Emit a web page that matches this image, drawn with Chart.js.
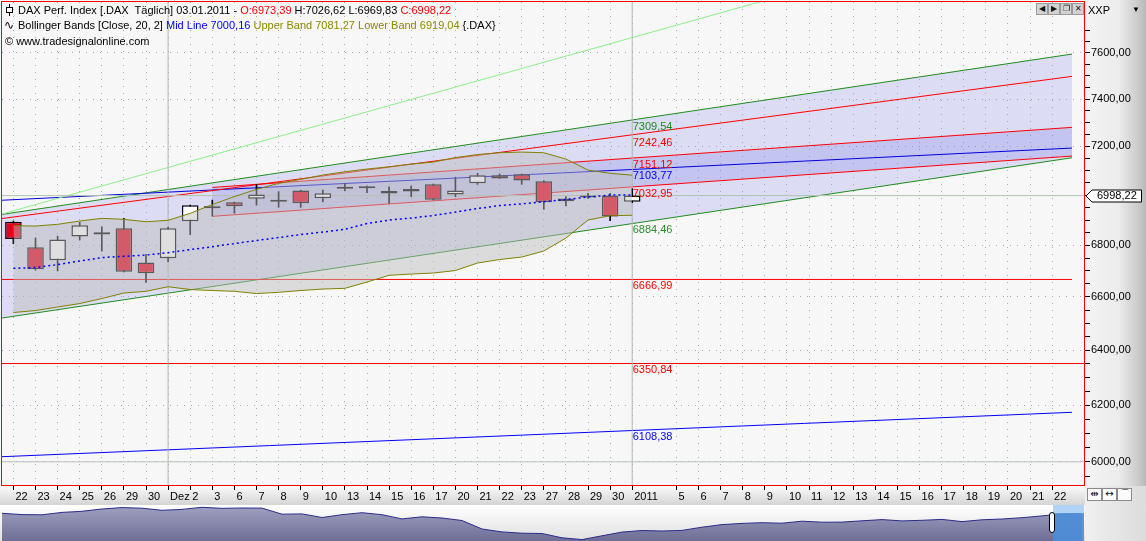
<!DOCTYPE html>
<html>
<head>
<meta charset="utf-8">
<script src="https://cdn.jsdelivr.net/npm/chart.js@4.4.1/dist/chart.umd.min.js"></script>
<style>
  html,body{margin:0;padding:0;}
  body{width:1146px;height:541px;overflow:hidden;position:relative;background:#fff;font-family:'Liberation Sans',Arial,sans-serif;font-size:11px;color:#000;}
  .a{position:absolute;}
  .t{white-space:pre;line-height:13px;font-size:11px;}
  #plotbg{left:0;top:0;width:1085px;height:486px;background:#f7f7f7;}
  #ybg{left:1085px;top:0;width:61px;height:486px;background:linear-gradient(to right,#f4f4f4 0%,#ececec 55%,#cdcdcd 85%,#b8b8b8 100%);}
  #xbg{left:0;top:486px;width:1085px;height:19px;background:linear-gradient(to bottom,#fbfbfb,#d4d4d4);}
  #cornerbg{left:1085px;top:486px;width:61px;height:55px;background:linear-gradient(to right,#f0f0f0,#dcdcdc);}
  #navbg{left:0;top:505px;width:1085px;height:36px;background:linear-gradient(to bottom,#ffffff,#e0e0e0);}
  #main{left:0;top:0;}
  #nav{left:2px;top:505px;}
  #frame{left:1px;top:1px;width:1082px;height:483px;border:1px solid #ff0000;pointer-events:none;}
  .btn{position:absolute;top:3px;width:10px;height:10px;background:#d2d2d2;border:1px solid #9a9a9a;font-size:8px;line-height:10px;text-align:center;color:#111;}
  .bbtn{position:absolute;top:488px;width:13px;height:11px;background:#fafafa;border:1px solid #8a8a8a;font-size:10px;line-height:10px;text-align:center;color:#111;font-family:'DejaVu Sans',sans-serif;}
</style>
</head>
<body>
<div class="a" id="plotbg"></div>
<div class="a" id="ybg"></div>
<div class="a" id="xbg"></div>
<div class="a" id="cornerbg"></div>
<div class="a" id="navbg"></div>
<canvas id="main" class="a" width="1146" height="505"></canvas>
<canvas id="nav" class="a" width="1082" height="36"></canvas>
<div class="a" id="frame"></div>

<!-- navigator selection -->
<div class="a" style="left:1053px;top:505px;width:31px;height:36px;background:linear-gradient(to bottom,#a8d0f4 0%,#a8d0f4 22%,#4a8ed8 24%,#4a8ed8 100%);opacity:0.9"></div>
<div class="a" style="left:1049px;top:512px;width:4px;height:19px;background:#fff;border:1px solid #000;border-radius:3px"></div>

<!-- header -->
<svg class="a" style="left:4px;top:4px" width="12" height="12"><line x1="5.5" y1="0" x2="5.5" y2="12" stroke="#000"/><rect x="2.5" y="3.5" width="6" height="5" fill="#fff" stroke="#000"/></svg>
<div class="a t" style="left:18px;top:4px">DAX Perf. Index [.DAX  Täglich] 03.01.2011 - <span style="color:#f00">O:6973,39</span> H:7026,62 L:6969,83 <span style="color:#f00">C:6998,22</span></div>
<div class="a t" style="left:4px;top:19px;font-family:'DejaVu Sans',sans-serif;font-size:12px">∿</div>
<div class="a t" style="left:18px;top:19px">Bollinger Bands [Close, 20, 2] <span style="color:#0000ff">Mid Line 7000,16</span><span style="color:#8a8a00"> Upper Band 7081,27 Lower Band 6919,04</span> {.DAX}</div>
<div class="a t" style="left:5px;top:35px">© www.tradesignalonline.com</div>

<!-- top right controls -->
<div class="btn" style="left:1036px">◀</div>
<div class="btn" style="left:1048px">▶</div>
<div class="btn" style="left:1060px">❐</div>
<div class="btn" style="left:1072px">✕</div>
<div class="a t" style="left:1088px;top:4px">XXP</div>
<div class="a t" style="left:1132px;top:3px;font-size:8px">▼</div>

<!-- bottom right controls -->
<div class="bbtn" style="left:1087px">⇹</div>
<div class="bbtn" style="left:1102px">↔</div>
<div class="bbtn" style="left:1117px">⌒</div>

<div id="labels"></div>

<script>
// ---------- DATA ----------
const xLabels = ['22','23','24','25','26','29','30','Dez','2','3','6','7','8','9','10','13','14','15','16','17','20','21','22','23','27','28','29','30','2011','','5','6','7','8','9','10','11','12','13','14','15','16','17','18','19','20','21','22'];
const xTickIdx = [0,1,2,3,4,5,6,7,8,9,10,11,12,13,14,15,16,17,18,19,20,21,22,23,24,25,26,27,28,30,31,32,33,34,35,36,37,38,39,40,41,42,43,44,45,46,47];
const yTickValues = [5950,6000,6050,6100,6150,6200,6250,6300,6350,6400,6450,6500,6550,6600,6650,6700,6750,6800,6850,6900,6950,7000,7050,7100,7150,7200,7250,7300,7350,7400,7450,7500,7550,7600,7650,7700];

const opens  = [6893,6792,6741,6835,6843,6867,6733,6749,6895,6950,6971,6985,6980,7019,6987,7033,7029,7007,7015,7044,7003,7048,7081,7085,7056,6986,6995,6999,6973.39];
const highs  = [6896,6829,6836,6891,6873,6907,6765,6872,6960,6980,6972,7044,7014,7020,7021,7048,7037,7034,7037,7045,7073,7089,7086,7086,7059,6994,7007,7007,7026.62];
const lows   = [6806,6703,6700,6821,6777,6696,6656,6736,6842,6916,6927,6960,6951,6951,6973,7018,7010,6967,6994,6980,6994,7044,7068,7044,6943,6957,6987,6897,6969.83];
const closes = [6825,6706,6823,6879,6851,6697,6691,6867,6959,6947,6955,7003,6973,6967,7008,7026,7028,7017,7025,6981,7019,7081,7068,7060,6971,6975,6990,6914,6998.22];

const bbUpper = [6877.3,6876.1,6882.9,6896.0,6906.8,6902.8,6893.2,6898.8,6926.8,6962.1,6994.3,7023.5,7047.9,7064.3,7081.8,7095.3,7106.4,7115.8,7126.9,7135.1,7153.8,7166.2,7173.7,7176.6,7173.7,7147.6,7102.3,7088.8,7081.27];
const bbLower = [6540.8,6548.3,6561.6,6574.9,6593.9,6615.0,6621.4,6639.1,6628.3,6624.5,6621.4,6613.0,6617.6,6624.5,6630.2,6632.9,6657.1,6682.9,6687.9,6691.8,6701.5,6730.6,6744.2,6754.0,6777.5,6828.6,6900.0,6917.2,6919.04];
const bbMid   = [6710.0,6713.1,6724.7,6738.4,6752.0,6756.7,6761.8,6770.8,6783.4,6794.4,6806.9,6818.7,6830.5,6842.4,6852.3,6863.0,6886.1,6900.0,6908.0,6918.0,6932.0,6946.0,6958.1,6965.0,6973.4,6982.3,6992.3,7000.4,7000.16];

// drawing-tool lines: [start index, end index] and [start value, end value]
const chanX  = [-0.516, 47.9];
const innerX = [9, 47.9];
const fullX  = [-0.516, 48.443];
const upperGreen  = [6922.4, 7594.8];
const lowerGreen  = [6520.0, 7153.0];
const steepGreen  = [6924.2, 8233.0];
const redUpper    = [6906.0, 7497.5];
const blueMid     = [6979.4, 7193.2];
const innerTop    = [7031.3, 7279.7];
const innerBottom = [6914.8, 7160.0];
const blueLower   = [6017.7, 6174.2];
const redLevel1   = 6666.99;
const redLevel2   = 6350.84;
const lastPrice   = 6998.22;
const baseLevel   = 6000;
const monthStarts = [7, 28];

const levelLabels = [7309.54, 7242.46, 7151.12, 7103.77, 7032.95, 6884.46, 6666.99, 6350.84, 6108.38];
const levelColors = ['#1e8c1e','#ff0000','#ff0000','#0000ff','#ff0000','#2e8b2e','#ff0000','#ff0000','#0000ff'];

const navHistory = [27.7,26.4,26.2,28.6,29.7,32,33.4,32.8,30.7,31.6,33.7,32.7,33,32.9,26.8,27.1,23.5,26.3,28.3,26.3,22.1,24.2,23,20.5,12,9.1,7.8,7.5,3.2,1.4,5.2,8.9,10.5,10,10.6,13.8,16.4,17.6,18.3,17.8,19.8,18.8,18.9,20.2,21.4,20.1,20.7,21.6,19.4,21.2,22,23.3,25.1,27.2,27.7];

const Y_MIN = 5920.1, Y_MAX = 7826.9, X_MIN = -0.5158, X_MAX = 48.443;

// ---------- BUILD ----------
const seg = (xs, vs) => [{x: xs[0], y: vs[0]}, {x: xs[1], y: vs[1]}];
const lineDs = (data, color, order, extra) => Object.assign({
  type: 'line', data, borderColor: color, borderWidth: 1, pointRadius: 0, tension: 0, order, fill: false
}, extra || {});

const idx = opens.map((_, i) => i);
const datasets = [
  lineDs(idx.map(i => ({x: i, y: bbUpper[i]})), '#808000', 3, {fill: 1, backgroundColor: 'rgba(188,188,188,0.48)'}),
  lineDs(idx.map(i => ({x: i, y: bbLower[i]})), '#808000', 2),
  lineDs(idx.map(i => ({x: i, y: bbMid[i]})), '#0000ff', 1, {borderDash: [2, 3], borderWidth: 1.5}),
  lineDs(seg(chanX, upperGreen), '#1e8c1e', 100, {fill: 4, backgroundColor: 'rgba(140,140,235,0.25)'}),
  lineDs(seg(chanX, lowerGreen), '#1e8c1e', 99),
  lineDs(seg(innerX, innerTop), '#ff0000', 98, {fill: 6, backgroundColor: 'rgba(100,100,230,0.2)'}),
  lineDs(seg(innerX, innerBottom), '#ff0000', 97),
  lineDs(seg(chanX, steepGreen), '#8cee8c', 96),
  lineDs(seg(chanX, redUpper), '#ff0000', 96),
  lineDs(seg(chanX, blueMid), '#0000dd', 96),
  lineDs(seg(chanX, [redLevel1, redLevel1]), '#ff0000', 96),
  lineDs(seg(fullX, [redLevel2, redLevel2]), '#ff0000', 96),
  lineDs(seg(chanX, blueLower), '#0000ff', 96),
  lineDs(seg(fullX, [lastPrice, lastPrice]), '#b2c6b2', 90),
  lineDs(seg(fullX, [baseLevel, baseLevel]), '#b8c0b8', 90),
  lineDs(seg([monthStarts[0], monthStarts[0]], [Y_MIN, Y_MAX]), '#b0b8b0', 90),
  lineDs(seg([monthStarts[1], monthStarts[1]], [Y_MIN, Y_MAX]), '#b0b8b0', 90),
  {
    type: 'bar', order: 51, grouped: false, barThickness: 1,
    data: idx.map(i => ({x: i, y: [lows[i], highs[i]]})),
    backgroundColor: '#000', borderWidth: 0
  },
  {
    type: 'bar', order: 50, grouped: false, categoryPercentage: 1, barPercentage: 0.75, minBarLength: 2,
    data: idx.map(i => ({x: i, y: [Math.min(opens[i], closes[i]), Math.max(opens[i], closes[i])]})),
    backgroundColor: idx.map(i => closes[i] >= opens[i] ? '#ffffff' : '#e8001c'),
    borderColor: '#000', borderWidth: 1.5, borderSkipped: false
  }
];

const font = {family: "'Liberation Sans', Arial, sans-serif", size: 11};
const fmt = v => v.toFixed(2).replace('.', ',');

const chart = new Chart(document.getElementById('main'), {
  type: 'line',
  data: {datasets},
  options: {
    responsive: false, animation: false, devicePixelRatio: 1, events: [],
    layout: {padding: {left: 2, top: 2, right: 0, bottom: 0}},
    plugins: {legend: {display: false}, tooltip: {enabled: false}},
    scales: {
      x: {
        type: 'linear', min: X_MIN, max: X_MAX, bounds: 'data', offset: false,
        afterBuildTicks: s => { s.ticks = xTickIdx.map(v => ({value: v})); },
        afterFit: s => { s.height = 20; s.paddingLeft = 0; s.paddingRight = 0; },
        ticks: {autoSkip: false, maxRotation: 0, align: 'start', labelOffset: 2, padding: 0, font, color: '#000',
                callback: v => xLabels[v]},
        grid: {offset: false, color: '#a3b0a3', lineWidth: 1, tickLength: 5, tickColor: '#000', tickBorderDash: []},
        border: {display: false, dash: [1, 6]}
      },
      y: {
        type: 'logarithmic', position: 'right', min: Y_MIN, max: Y_MAX, offset: false,
        afterBuildTicks: s => { s.ticks = yTickValues.map(v => ({value: v})); },
        afterFit: s => { s.width = 62; s.paddingTop = 0; s.paddingBottom = 0; },
        ticks: {autoSkip: false, padding: 1, font, color: '#000',
                callback: v => (v % 200 === 0 ? fmt(v) : '')},
        grid: {color: c => (c.tick && c.tick.value % 200 === 0 ? '#a3b0a3' : 'rgba(0,0,0,0)'),
               tickLength: 6, tickColor: '#000', tickBorderDash: []},
        border: {display: false, dash: [1, 6]}
      }
    }
  }
});

const xs = chart.scales.x, ys = chart.scales.y;
const lab = document.getElementById('labels');
levelLabels.forEach((v, i) => {
  const d = document.createElement('div');
  d.className = 'a t';
  d.style.left = (xs.getPixelForValue(monthStarts[1]) + 0.5) + 'px';
  d.style.top = (ys.getPixelForValue(v) - 0.5) + 'px';
  d.style.color = levelColors[i];
  d.textContent = fmt(v);
  lab.appendChild(d);
});
const py = ys.getPixelForValue(lastPrice);
const mk = document.createElementNS('http://www.w3.org/2000/svg', 'svg');
mk.setAttribute('width', '58'); mk.setAttribute('height', '14');
mk.setAttribute('class', 'a');
mk.style.left = '1085px'; mk.style.top = (py - 7) + 'px';
mk.innerHTML = '<polygon points="1,7 7,1 56.5,1 56.5,13 7,13" fill="#fff" stroke="#000" stroke-width="1"/>';
lab.appendChild(mk);
const mt = document.createElement('div');
mt.className = 'a t';
mt.style.left = '1097px'; mt.style.top = (py - 6.5) + 'px';
mt.textContent = fmt(lastPrice);
lab.appendChild(mt);

const nc = document.getElementById('nav');
const g = nc.getContext('2d').createLinearGradient(0, 0, 0, 36);
g.addColorStop(0, '#a2a2c2'); g.addColorStop(1, '#6e6e96');
new Chart(nc, {
  type: 'line',
  data: {datasets: [{
    data: navHistory.map((v, i) => ({x: i, y: v})),
    borderColor: '#2b2b8a', borderWidth: 1, pointRadius: 0, fill: 'origin', backgroundColor: g, tension: 0
  }]},
  options: {
    responsive: false, animation: false, devicePixelRatio: 1, events: [],
    layout: {padding: 0},
    plugins: {legend: {display: false}, tooltip: {enabled: false}},
    scales: {x: {type: 'linear', display: false, min: 0, max: 54.1}, y: {display: false, min: 0, max: 36}}
  }
});
</script>
</body>
</html>
